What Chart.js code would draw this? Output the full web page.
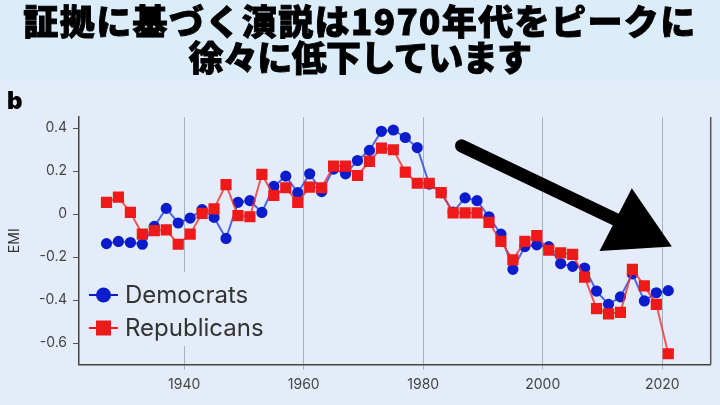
<!DOCTYPE html>
<html>
<head>
<meta charset="utf-8">
<script src="https://cdn.jsdelivr.net/npm/chart.js@4.4.1/dist/chart.umd.min.js"></script>
<style>
  html, body { margin:0; padding:0; width:720px; height:405px; overflow:hidden; background:#e4ecfa; }
  #titlebg { position:absolute; left:0; top:0; width:720px; height:86px; background:linear-gradient(#dbecfb 0%, #dbecfb 85%, #e4ecfa 100%); }
  #title { position:absolute; left:0; top:2px; width:720px; text-align:center; font-family:"Noto Sans CJK JP", sans-serif; font-weight:900; font-size:35px; line-height:36px; color:#000; -webkit-text-stroke:0.9px #000; }
  #title .l1 { letter-spacing:1.4px; }
  #title .l2 { letter-spacing:-0.6px; }
  #panel { position:absolute; left:7px; top:86px; font-family:"Inter","Liberation Sans",sans-serif; font-weight:900; font-size:24px; color:#000; }
  #wrap { position:absolute; left:0; top:0; width:720px; height:405px; }
</style>
</head>
<body>
<div id="titlebg"></div>
<div id="wrap"><canvas id="c" width="720" height="405"></canvas></div>
<div id="title"><span class="l1">証拠に基づく演説は1970年代をピークに</span><br><span class="l2">徐々に低下しています</span></div>
<div id="panel">b</div>
<script>
const years = [1927,1929,1931,1933,1935,1937,1939,1941,1943,1945,1947,1949,1951,1953,1955,1957,1959,1961,1963,1965,1967,1969,1971,1973,1975,1977,1979,1981,1983,1985,1987,1989,1991,1993,1995,1997,1999,2001,2003,2005,2007,2009,2011,2013,2015,2017,2019,2021];
const democrats = [-0.137,-0.127,-0.132,-0.14,-0.057,0.027,-0.041,-0.018,0.021,-0.015,-0.113,0.055,0.063,0.008,0.129,0.177,0.1,0.188,0.105,0.21,0.188,0.25,0.297,0.386,0.392,0.357,0.31,0.14,0.1,0.01,0.076,0.063,-0.012,-0.093,-0.257,-0.151,-0.143,-0.151,-0.23,-0.243,-0.251,-0.358,-0.42,-0.385,-0.278,-0.404,-0.366,-0.356];
const republicans = [0.055,0.079,0.008,-0.093,-0.077,-0.073,-0.14,-0.093,0.004,0.025,0.138,-0.007,-0.012,0.185,0.087,0.123,0.055,0.126,0.123,0.224,0.224,0.18,0.246,0.308,0.3,0.196,0.144,0.144,0.1,0.006,0.006,0.006,-0.038,-0.127,-0.213,-0.127,-0.1,-0.168,-0.18,-0.187,-0.293,-0.44,-0.464,-0.457,-0.257,-0.334,-0.42,-0.65];
const xTicks = [1940,1960,1980,2000,2020];
const yTicks = [0.4,0.2,0,-0.2,-0.4,-0.6];
const yTickLabels = ["0.4","0.2","0","-0.2","-0.4","-0.6"];
const seriesNames = ["Democrats","Republicans"];
const yAxisTitle = "EMI";
// arrow annotation in data coordinates: [year, EMI]
const arrowShaft = [[1986.4,0.318],[2014.1,-0.05]];
const arrowHead = [[2014.9,0.121],[2021.6,-0.151],[2009.5,-0.171]];

const BLUE = '#0b1ccc', BLUE_LINE = 'rgba(40,70,225,0.8)';
const RED = '#ee1a1a', RED_LINE = 'rgba(238,50,50,0.8)';

const extras = {
  id:'extras',
  afterDatasetsDraw(chart){
    const ctx = chart.ctx, a = chart.chartArea, xs = chart.scales.x, ys = chart.scales.y;
    ctx.save();
    ctx.strokeStyle = '#555'; ctx.lineWidth = 1.5;
    ctx.beginPath(); ctx.moveTo(a.right, a.top); ctx.lineTo(a.right, a.bottom); ctx.stroke();
    const lx = a.left + 5, ly = a.top + 155;
    ctx.fillStyle = '#e4ecfa';
    ctx.fillRect(lx, ly, 200, 74);
    const rows = [
      {name:seriesNames[0], color:BLUE, style:'circle'},
      {name:seriesNames[1], color:RED, style:'rect'}
    ];
    rows.forEach((r,i)=>{
      const cy = ly + 23 + i*33;
      ctx.strokeStyle = r.color; ctx.lineWidth = 2;
      ctx.beginPath(); ctx.moveTo(lx+5, cy); ctx.lineTo(lx+34, cy); ctx.stroke();
      ctx.fillStyle = r.color;
      if (r.style === 'circle') { ctx.beginPath(); ctx.arc(lx+19.5, cy, 7.5, 0, Math.PI*2); ctx.fill(); }
      else { ctx.fillRect(lx+12, cy-7.5, 15, 15); }
      ctx.fillStyle = '#333';
      ctx.font = '24px Inter, "Open Sans", sans-serif';
      ctx.textBaseline = 'middle'; ctx.textAlign = 'left';
      ctx.fillText(r.name, lx+41, cy+1);
    });
    const P = p => [xs.getPixelForValue(p[0]), ys.getPixelForValue(p[1])];
    const s0 = P(arrowShaft[0]), s1 = P(arrowShaft[1]);
    ctx.strokeStyle = '#000'; ctx.lineWidth = 13; ctx.lineCap = 'round';
    ctx.beginPath(); ctx.moveTo(s0[0], s0[1]); ctx.lineTo(s1[0], s1[1]); ctx.stroke();
    ctx.fillStyle = '#000';
    ctx.beginPath();
    arrowHead.forEach((p,i)=>{ const q = P(p); if(i===0) ctx.moveTo(q[0],q[1]); else ctx.lineTo(q[0],q[1]); });
    ctx.closePath(); ctx.fill();
    ctx.restore();
  }
};

new Chart(document.getElementById('c'), {
  type:'line',
  data:{
    datasets:[
      { label:seriesNames[1], data:years.map((y,i)=>({x:y, y:republicans[i]})), borderColor:RED_LINE, backgroundColor:RED, pointBackgroundColor:RED, pointBorderColor:RED, pointStyle:'rect', pointRadius:6.5, borderWidth:2, tension:0, order:0 },
      { label:seriesNames[0], data:years.map((y,i)=>({x:y, y:democrats[i]})), borderColor:BLUE_LINE, backgroundColor:BLUE, pointBackgroundColor:BLUE, pointBorderColor:BLUE, pointStyle:'circle', pointRadius:4.6, borderWidth:2, tension:0, order:1 }
    ]
  },
  options:{
    responsive:false, animation:false, devicePixelRatio:1,
    layout:{ padding:{ left:0, right:9.3, top:117, bottom:0 } },
    plugins:{ legend:{display:false}, tooltip:{enabled:false}, title:{display:false} },
    scales:{
      x:{
        type:'linear', min:1922.4, max:2028.1,
        afterBuildTicks: s => { s.ticks = xTicks.map(v=>({value:v})); },
        afterFit: s => { s.height = 40.5; },
        grid:{ color:'#a9b1be', lineWidth:1, tickLength:5, drawTicks:true },
        border:{ color:'#444', width:1.5 },
        ticks:{ color:'#444', font:{ family:'Inter, "Open Sans", sans-serif', size:14 }, padding:7, maxRotation:0, callback:v=>String(v) }
      },
      y:{
        type:'linear', min:-0.7, max:0.4525,
        afterBuildTicks: s => { s.ticks = yTicks.map(v=>({value:v})); },
        afterFit: s => { s.width = 79; },
        grid:{ drawOnChartArea:false, tickLength:6, color:'#555' },
        border:{ color:'#444', width:1.5 },
        ticks:{ color:'#444', font:{ family:'Inter, "Open Sans", sans-serif', size:14 }, padding:6, callback:(v)=>{ const i = yTicks.findIndex(t=>Math.abs(t-v)<1e-9); return i>=0 ? yTickLabels[i] : ''; } },
        title:{ display:true, text:yAxisTitle, color:'#333', font:{ family:'Inter, "Open Sans", sans-serif', size:14 }, padding:{top:6,bottom:0} }
      }
    }
  },
  plugins:[extras]
});
</script>
</body>
</html>
